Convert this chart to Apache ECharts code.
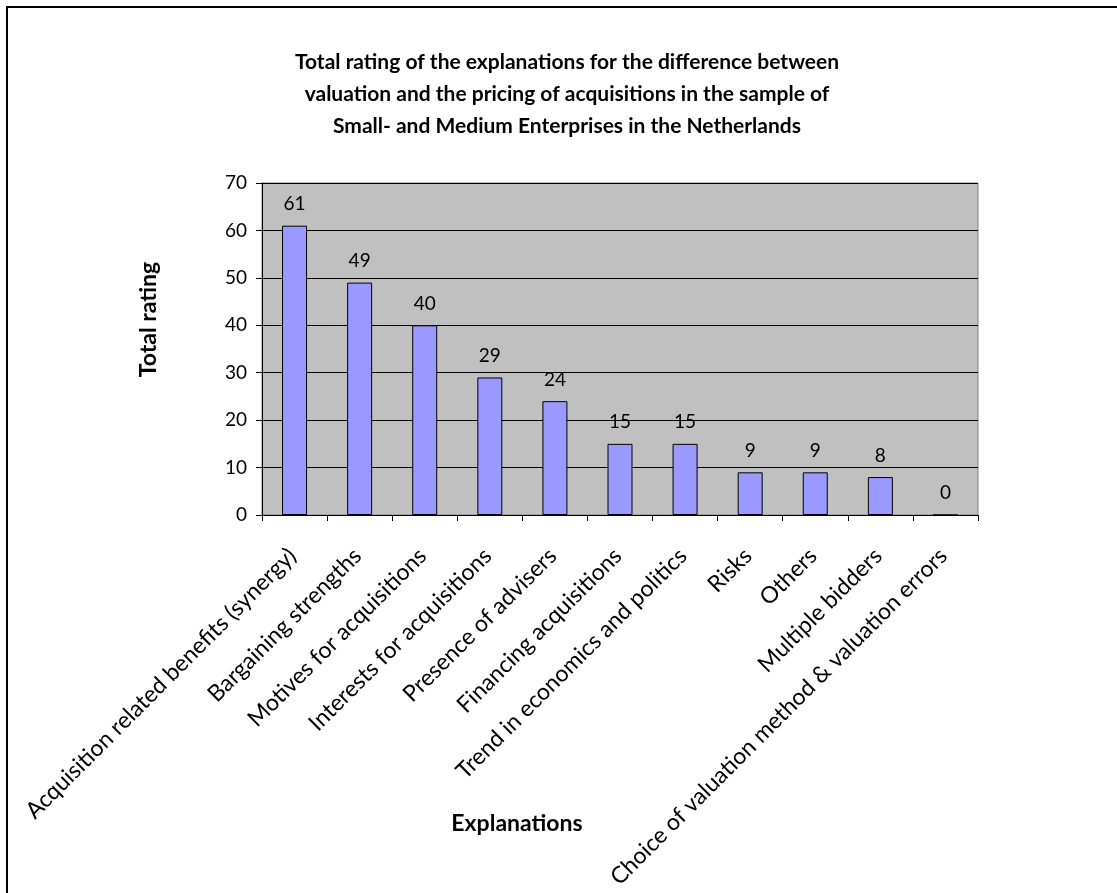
<!DOCTYPE html>
<html>
<head>
<meta charset="utf-8">
<script src="https://cdn.jsdelivr.net/npm/echarts@6/dist/echarts.min.js"></script>
<style>
html,body{margin:0;padding:0;background:#fff;}
#c{width:1117px;height:893px;}
</style>
</head>
<body>
<div id="c"></div>
<script>
const categories = [
  "Acquisition related benefits (synergy)",
  "Bargaining strengths",
  "Motives for acquisitions",
  "Interests for acquisitions",
  "Presence of advisers",
  "Financing acquisitions",
  "Trend in economics and politics",
  "Risks",
  "Others",
  "Multiple bidders",
  "Choice of valuation method & valuation errors"
];
const totalRating = [61, 49, 40, 29, 24, 15, 15, 9, 9, 8, 0];
const yTicks = [0, 10, 20, 30, 40, 50, 60, 70];

const FONT = "Lato";
const chart = echarts.init(document.getElementById('c'));
chart.setOption({
  animation: false,
  backgroundColor: '#fff',
  textStyle: {fontFamily: FONT},
  title: {
    text: "Total rating of the explanations for the difference between\nvaluation and the pricing of acquisitions in the sample of\nSmall- and Medium Enterprises in the Netherlands",
    left: 562, top: 41, textAlign: 'center',
    textStyle: {fontFamily: FONT, fontSize: 21, fontWeight: 'bold', color: '#000', lineHeight: 32}
  },
  graphic: [{
    type: 'rect', shape: {x: 7, y: 7, width: 1200, height: 1000},
    style: {fill: 'none', stroke: '#000', lineWidth: 2}, silent: true, z: 100
  }],
  grid: {left: 262, top: 183, width: 716, height: 332, containLabel: false,
    outerBoundsMode: 'none',
    show: true, backgroundColor: '#C0C0C0', borderColor: '#808080', borderWidth: 1},
  xAxis: {
    type: 'category', data: categories,
    name: 'Explanations', nameLocation: 'middle', nameGap: 297, nameMoveOverlap: false,
    nameTextStyle: {fontFamily: FONT, fontSize: 23, fontWeight: 'bold', color: '#000', padding: [0, 206, 0, 0]},
    axisLine: {lineStyle: {color: '#000', width: 1}},
    axisTick: {show: true, length: 6, lineStyle: {color: '#000'}},
    axisLabel: {rotate: 45, interval: 0, fontFamily: FONT, fontSize: 23, color: '#000', margin: 35, padding: [0, 3, 0, 0]}
  },
  yAxis: {
    type: 'value', min: 0, max: 70, interval: 10,
    name: 'Total rating', nameLocation: 'middle', nameGap: 102, nameRotate: 90, nameMoveOverlap: false,
    nameTextStyle: {fontFamily: FONT, fontSize: 23, fontWeight: 'bold', color: '#000', padding: [0, 0, 0, 59]},
    axisLine: {show: true, lineStyle: {color: '#000'}},
    axisTick: {show: true, length: 6, lineStyle: {color: '#000'}},
    axisLabel: {fontFamily: FONT, fontSize: 19, color: '#000', margin: 15},
    splitLine: {lineStyle: {color: '#000', width: 1}}
  },
  series: [{
    type: 'bar', data: totalRating, barWidth: 25,
    itemStyle: {color: '#9999FF', borderColor: '#000', borderWidth: 1},
    label: {show: true, position: 'top', distance: 12, fontFamily: FONT, fontSize: 19, color: '#000'}
  }]
});
</script>
</body>
</html>
